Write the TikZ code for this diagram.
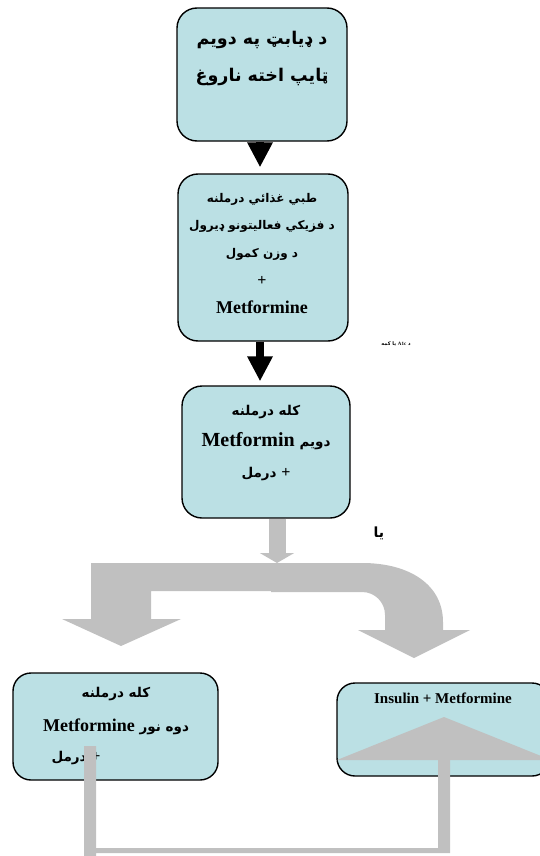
\documentclass[tikz,border=0pt]{standalone}
\usepackage{fontspec}
\setmainfont{Liberation Serif}
\newfontfamily\arabicfont[Script=Arabic]{DejaVu Sans}
\TeXXeTstate=1
\usetikzlibrary{arrows.meta}
\definecolor{boxblue}{RGB}{187,224,228}
\definecolor{flowgrey}{RGB}{192,192,192}
\tikzset{
  flowbox/.style={draw=black, line width=1.4pt, fill=boxblue, rounded corners=20pt, inner sep=0pt},
  blackarrow/.style={line width=8pt, -{Triangle[width=24pt,length=25pt]}},
  greyarrow/.style={draw=flowgrey, line width=17pt, -{Triangle[width=34pt,length=10pt]}},
  artext/.style={font=\arabicfont\bfseries, align=center, inner sep=0pt},
}
\begin{document}
\begin{tikzpicture}[x=1pt,y=-1pt]
\useasboundingbox (0,0) rectangle (540,856);
% boxes
\node[flowbox, minimum width=170pt, minimum height=133pt] (b1) at (262,74.5) {};
\node[flowbox, minimum width=170pt, minimum height=167pt] (b2) at (263,257.5) {};
\node[flowbox, minimum width=168pt, minimum height=132pt] (b3) at (266,452) {};
\node[flowbox, rounded corners=18pt, minimum width=205pt, minimum height=107pt] (b4) at (115.5,726.5) {};
\node[flowbox, rounded corners=18pt, minimum width=213pt, minimum height=93pt] (b5) at (443.5,729.5) {};
% texts
\node[artext, font=\arabicfont\bfseries\fontsize{17.5}{37}\selectfont] (t1) at (262,58) {\beginR د ډيابټ په دويم\endR\\ \beginR ټايپ اخته ناروغ\endR};
\node[artext, font=\arabicfont\bfseries\fontsize{12}{27.7}\selectfont] (t2) at (262,239) {\beginR طبي غذائي درملنه\endR\\ \beginR د فزيکي فعاليتونو ډيرول\endR\\ \beginR د وزن کمول\endR\\ {\rmfamily\fontsize{16}{16}\selectfont +}};
\node[font=\bfseries\fontsize{18}{18}\selectfont, inner sep=0pt] (t2b) at (262,307) {Metformine};
\node[artext, font=\arabicfont\bfseries\fontsize{13.5}{31}\selectfont] (t3) at (266,443) {\beginR کله درملنه\endR\\ \beginR دويم \beginL{\rmfamily\fontsize{20}{20}\selectfont Metformin}\endL\endR\\ \beginR {\rmfamily\fontsize{16}{16}\selectfont +} درمل\endR};
\node[artext, font=\arabicfont\bfseries\fontsize{13.5}{34}\selectfont] (t4) at (116,711) {\beginR کله درملنه\endR\\ \beginR دوه نور \beginL{\rmfamily\fontsize{18}{18}\selectfont Metformine}\endL\endR};
\node[artext, font=\arabicfont\bfseries\fontsize{13.5}{16}\selectfont] (t4b) at (76,758) {\beginR {\rmfamily\fontsize{16}{16}\selectfont +} درمل\endR};
\node[font=\bfseries\fontsize{15}{15}\selectfont, inner sep=0pt] (t5) at (443,698) {Insulin + Metformine};
\node[artext, font=\arabicfont\bfseries\fontsize{5}{6}\selectfont] (lbl) at (396,344) {\beginR د \beginL{\rmfamily A1c}\endL{} يا کمه\endR};
\node[artext, font=\arabicfont\bfseries\fontsize{14}{16}\selectfont] (ya) at (379,533) {\beginR يا\endR};
% black arrows
\coordinate (ax) at (260,0);
\draw[blackarrow, shorten >=6pt] (b1.south -| ax) -- (b2.north -| ax);
\draw[blackarrow, shorten >=4pt] (b2.south -| ax) -- (b3.north -| ax);
% split arrow
\coordinate (gx) at (277,0);
\coordinate (split) at (277,563);
\draw[greyarrow] (b3.south -| gx) -- (split);
\fill[flowgrey] (91,563) -- (271,563) -- (271,591) -- (151,591) -- (151,619) -- (181,619) -- (121,646) -- (62,619) -- (91,619) -- cycle;
\fill[flowgrey] (271,563) -- (362,563) .. controls (410,563) and (443,585) .. (443,622) -- (443,630) -- (470,630) -- (414,658) -- (358,630) -- (385,630) -- (385,615) .. controls (385,602) and (374.7,592) .. (362,592) -- (271,592) -- cycle;
% loop back
\fill[flowgrey] (84,746) -- (96,746) -- (96,848) -- (438,848) -- (438,760) -- (450,760) -- (450,853) -- (96,853) -- (96,856) -- (84,856) -- cycle;
\fill[flowgrey] (337,760) -- (444,717) -- (551,760) -- cycle;
\end{tikzpicture}
\end{document}
